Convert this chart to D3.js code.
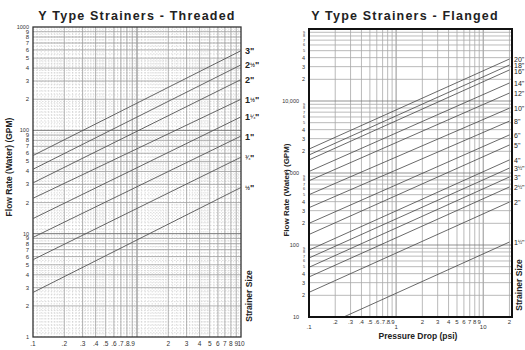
<!DOCTYPE html>
<html>
<head>
<meta charset="utf-8">
<script src="https://cdn.jsdelivr.net/npm/d3@7"></script>
<style>
  body { margin: 0; background: #fff; }
  svg { display: block; font-family: Arial, "Liberation Sans", sans-serif; }
</style>
</head>
<body>
<svg id="chart" width="525" height="350"></svg>
<script>
// ---- threaded chart data ----
const threadedSizes = ['3"', '2½"', '2"', '1½"', '1¼"', '1"', '¾"', '½"'];
const threadedDropLow = 0.1;
const threadedDropHigh = 10;
const threadedFlowLow = [57, 42, 31, 22, 14, 9.2, 5.6, 2.7];      // GPM at .1 psi
const threadedFlowHigh = [590, 430, 310, 200, 135, 88, 55, 28];   // GPM at 10 psi
const threadedXTicks = [0.1, 0.2, 0.3, 0.4, 0.5, 0.6, 0.7, 0.8, 0.9, 2, 3, 4, 5, 6, 7, 8, 9, 10];
const threadedXLabels = ['.1', '.2', '.3', '.4', '.5', '.6', '.7', '.8', '.9', '2', '3', '4', '5', '6', '7', '8', '9', '10'];
const threadedYTicks = [1, 2, 3, 4, 5, 6, 7, 8, 9, 10, 20, 30, 40, 50, 60, 70, 80, 90, 100, 200, 300, 400, 500, 600, 700, 800, 900, 1000];
const threadedYLabels = ['1', '2', '3', '4', '5', '6', '7', '8', '9', '10', '2', '3', '4', '5', '6', '7', '8', '9', '100', '2', '3', '4', '5', '6', '7', '8', '9', '1000'];

// ---- flanged chart data ----
const flangedSizes = ['20"', '18"', '16"', '14"', '12"', '10"', '8"', '6"', '5"', '4"', '3½"', '3"', '2½"', '2"', '1½"'];
const flangedStartDrop = [0.1, 0.1, 0.1, 0.1, 0.1, 0.1, 0.1, 0.1, 0.1, 0.1, 0.1, 0.1, 0.1, 0.1, 0.25];
const flangedStartFlow = [2150, 1780, 1520, 1050, 780, 500, 330, 200, 140, 85, 66, 49, 36, 22, 10];
const flangedEndDrop = 20;
const flangedEndFlow = [38300, 31600, 27000, 17800, 12900, 7950, 5260, 3380, 2450, 1520, 1170, 880, 640, 395, 110];
const flangedXTicks = [0.1, 0.2, 0.3, 0.4, 0.5, 0.6, 0.7, 0.8, 0.9, 1, 2, 3, 4, 5, 6, 7, 8, 9, 10, 20];
const flangedXLabels = ['.1', '.2', '.3', '.4', '.5', '.6', '.7', '.8', '.9', '1', '2', '3', '4', '5', '6', '7', '8', '9', '10', '2'];
const flangedYTicks = [10, 20, 30, 40, 50, 60, 70, 80, 90, 100, 200, 300, 400, 500, 600, 700, 800, 900,
  1000, 2000, 3000, 4000, 5000, 6000, 7000, 8000, 9000, 10000, 20000, 30000, 40000, 50000, 60000, 70000, 80000, 90000];
const flangedYLabels = ['10', '2', '3', '4', '5', '6', '7', '8', '9', '100', '2', '3', '4', '5', '6', '7', '8', '9',
  '1,000', '2', '3', '4', '5', '6', '7', '8', '9', '10,000', '2', '3', '4', '5', '6', '7', '8', '9'];

const svg = d3.select('#chart');
const isDecade = v => Math.abs(Math.log10(v) - Math.round(Math.log10(v))) < 1e-9;
const leadDigit = v => Math.round(v / Math.pow(10, Math.floor(Math.log10(v) + 1e-9)));

// log paper values between lo and hi
function gridValues(lo, hi, steps) {
  const out = [];
  for (let k = Math.floor(Math.log10(lo)); k < Math.ceil(Math.log10(hi)); k++) {
    steps.forEach(s => {
      const v = +(s * Math.pow(10, k)).toPrecision(6);
      if (v > lo * 1.0001 && v < hi * 0.9999) out.push(v);
    });
  }
  return out;
}

// size label with a smaller fraction glyph
function sizeLabel(sel, fracSize) {
  sel.each(function (d) {
    const t = d3.select(this);
    const m = d.match(/^(\d*)([½¼¾]?)"$/);
    if (m[1]) t.append('tspan').text(m[1]);
    if (m[2]) t.append('tspan').attr('font-size', fracSize).attr('dy', -1).text(m[2]);
    t.append('tspan').attr('dy', m[2] ? 1 : 0).text('"');
  });
}

// push crowded labels apart (top to bottom)
function dodge(ys, gap) {
  const out = ys.slice();
  for (let i = 1; i < out.length; i++) out[i] = Math.max(out[i], out[i - 1] + gap);
  return out;
}

// ================= Threaded =================
const x1 = d3.scaleLog().domain([0.1, 10]).range([33, 241]);
const y1 = d3.scaleLog().domain([1, 1000]).range([337, 27]);

const g1 = svg.append('g');
const fine = [];
for (let s = 1.1; s < 2; s += 0.1) fine.push(s);
for (let s = 2.2; s < 5; s += 0.2) fine.push(s);
for (let s = 5.5; s < 10; s += 0.5) fine.push(s);
const major = [1, 2, 3, 4, 5, 6, 7, 8, 9];

g1.append('g').selectAll('line').data(gridValues(0.1, 10, fine)).join('line')
  .attr('x1', d => x1(d)).attr('x2', d => x1(d)).attr('y1', 27).attr('y2', 337)
  .attr('stroke', '#c8c8c8').attr('stroke-width', 0.6).attr('stroke-dasharray', '1.5,1.5');
g1.append('g').selectAll('line').data(gridValues(1, 1000, fine)).join('line')
  .attr('y1', d => y1(d)).attr('y2', d => y1(d)).attr('x1', 33).attr('x2', 241)
  .attr('stroke', '#c8c8c8').attr('stroke-width', 0.6).attr('stroke-dasharray', '1.5,1.5');
g1.append('g').selectAll('line').data(gridValues(0.1, 10, major)).join('line')
  .attr('x1', d => x1(d)).attr('x2', d => x1(d)).attr('y1', 27).attr('y2', 337)
  .attr('stroke', d => isDecade(d) ? '#777' : '#a0a0a0').attr('stroke-width', d => isDecade(d) ? 1 : 0.8);
g1.append('g').selectAll('line').data(gridValues(1, 1000, major)).join('line')
  .attr('y1', d => y1(d)).attr('y2', d => y1(d)).attr('x1', 33).attr('x2', 241)
  .attr('stroke', d => isDecade(d) ? '#777' : '#a0a0a0').attr('stroke-width', d => isDecade(d) ? 1 : 0.8);

g1.append('rect').attr('x', 33).attr('y', 27).attr('width', 208).attr('height', 310)
  .attr('fill', 'none').attr('stroke', '#333').attr('stroke-width', 1.3);

g1.append('g').selectAll('line').data(threadedSizes).join('line')
  .attr('x1', x1(threadedDropLow)).attr('x2', x1(threadedDropHigh))
  .attr('y1', (d, i) => y1(threadedFlowLow[i])).attr('y2', (d, i) => y1(threadedFlowHigh[i]))
  .attr('stroke', '#555').attr('stroke-width', 0.9);

g1.append('g').selectAll('text').data(threadedSizes).join('text')
  .attr('x', 245).attr('y', (d, i) => y1(threadedFlowHigh[i]) + 3.5)
  .attr('font-size', 9).attr('font-weight', 'bold').attr('fill', '#222')
  .call(sizeLabel, 6);

g1.append('g').selectAll('text').data(threadedYTicks).join('text')
  .attr('x', 29).attr('y', d => y1(d) + 2)
  .attr('text-anchor', 'end').attr('font-size', d => isDecade(d) ? 5.5 : 6)
  .attr('fill', '#333').text((d, i) => threadedYLabels[i]);

g1.append('g').selectAll('text').data(threadedXTicks).join('text')
  .attr('x', d => x1(d)).attr('y', 346)
  .attr('text-anchor', 'middle').attr('font-size', 6.5)
  .attr('fill', '#333').text((d, i) => threadedXLabels[i]);

g1.append('text').attr('x', 137).attr('y', 20).attr('text-anchor', 'middle')
  .attr('font-size', 12.5).attr('font-weight', 'bold').attr('letter-spacing', 1.2)
  .attr('fill', '#222').text('Y Type Strainers - Threaded');
g1.append('text').attr('transform', 'translate(12,167) rotate(-90)').attr('text-anchor', 'middle')
  .attr('font-size', 8.5).attr('font-weight', 'bold').attr('fill', '#222').text('Flow Rate (Water) (GPM)');
g1.append('text').attr('transform', 'translate(252,296) rotate(-90)').attr('text-anchor', 'middle')
  .attr('font-size', 8.5).attr('font-weight', 'bold').attr('fill', '#222').text('Strainer Size');

// ================= Flanged =================
const x2 = d3.scaleLog().domain([0.1, 21.4]).range([309, 512]);
const y2 = d3.scaleLog().domain([10, 100000]).range([317, 29]);

const g2 = svg.append('g');
g2.append('defs').append('clipPath').attr('id', 'clip2')
  .append('rect').attr('x', 309).attr('y', 29).attr('width', 203).attr('height', 288);

g2.append('g').selectAll('line').data(gridValues(0.1, 21.4, major)).join('line')
  .attr('x1', d => x2(d)).attr('x2', d => x2(d)).attr('y1', 29).attr('y2', 317)
  .attr('stroke', d => isDecade(d) ? '#777' : '#a8a8a8').attr('stroke-width', 0.8);
g2.append('g').selectAll('line').data(gridValues(10, 100000, major)).join('line')
  .attr('y1', d => y2(d)).attr('y2', d => y2(d)).attr('x1', 309).attr('x2', 512)
  .attr('stroke', d => isDecade(d) ? '#777' : '#a8a8a8').attr('stroke-width', 0.8);

g2.append('g').attr('clip-path', 'url(#clip2)').selectAll('line').data(flangedSizes).join('line')
  .attr('x1', (d, i) => x2(flangedStartDrop[i])).attr('x2', x2(flangedEndDrop))
  .attr('y1', (d, i) => y2(flangedStartFlow[i])).attr('y2', (d, i) => y2(flangedEndFlow[i]))
  .attr('stroke', '#444').attr('stroke-width', 0.8);

g2.append('rect').attr('x', 309).attr('y', 29).attr('width', 203).attr('height', 288)
  .attr('fill', 'none').attr('stroke', '#111').attr('stroke-width', 2);

const flangedLabelY = dodge(flangedEndFlow.map(v => y2(v)), 6);
g2.append('g').selectAll('text').data(flangedSizes).join('text')
  .attr('x', 514).attr('y', (d, i) => flangedLabelY[i] + 2.6)
  .attr('font-size', 7).attr('fill', '#222')
  .call(sizeLabel, 4.8);

g2.append('g').selectAll('text').data(flangedYTicks).join('text')
  .attr('x', d => isDecade(d) ? 299 : 305).attr('y', d => y2(d) + (isDecade(d) || leadDigit(d) < 5 ? 2 : 1.4))
  .attr('text-anchor', 'end').attr('font-size', d => isDecade(d) || leadDigit(d) < 5 ? 5.5 : 3.8)
  .attr('fill', '#333').text((d, i) => flangedYLabels[i]);

g2.append('g').selectAll('text').data(flangedXTicks).join('text')
  .attr('x', d => x2(d)).attr('y', d => isDecade(d) ? 329 : 324)
  .attr('text-anchor', 'middle').attr('font-size', 6)
  .attr('fill', '#333').text((d, i) => flangedXLabels[i]);

g2.append('text').attr('x', 405).attr('y', 20).attr('text-anchor', 'middle')
  .attr('font-size', 12.5).attr('font-weight', 'bold').attr('letter-spacing', 1.2)
  .attr('fill', '#222').text('Y Type Strainers - Flanged');
g2.append('text').attr('transform', 'translate(289,190) rotate(-90)').attr('text-anchor', 'middle')
  .attr('font-size', 8).attr('font-weight', 'bold').attr('fill', '#222').text('Flow Rate (Water) (GPM)');
g2.append('text').attr('transform', 'translate(522,285) rotate(-90)').attr('text-anchor', 'middle')
  .attr('font-size', 8.5).attr('font-weight', 'bold').attr('fill', '#222').text('Strainer Size');
g2.append('text').attr('x', 418).attr('y', 339).attr('text-anchor', 'middle')
  .attr('font-size', 8.5).attr('font-weight', 'bold').attr('fill', '#222').text('Pressure Drop (psi)');
</script>
</body>
</html>
